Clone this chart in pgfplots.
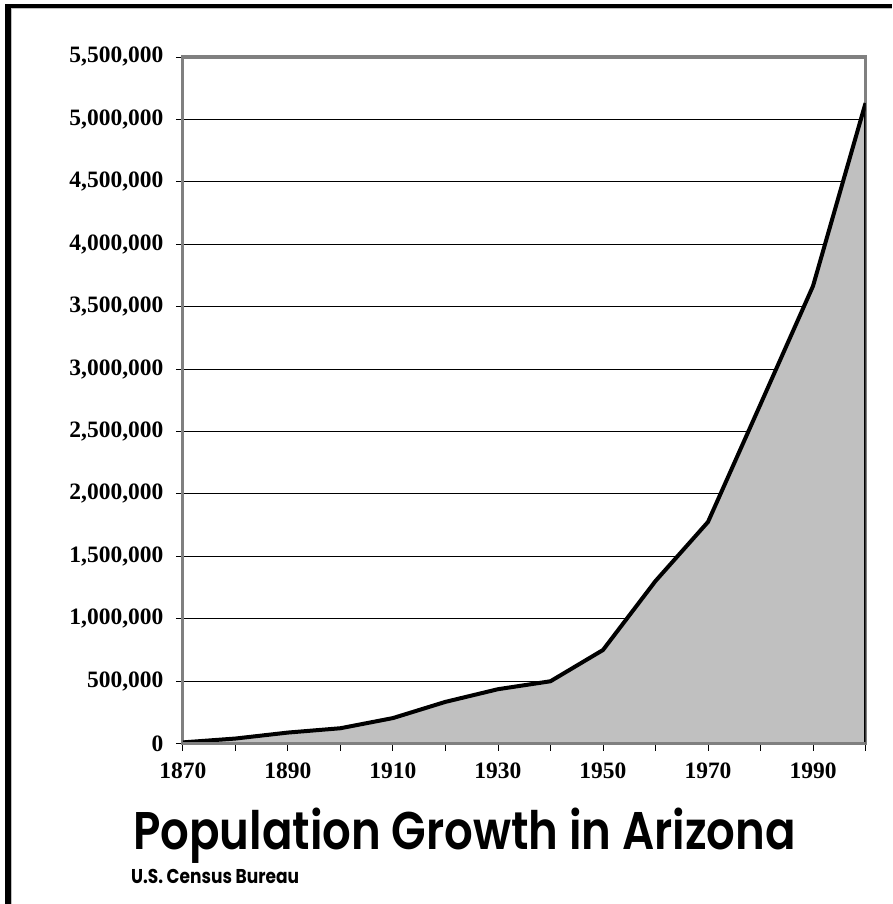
\documentclass[border=0pt]{standalone}
\usepackage{fontspec}
\setmainfont{Liberation Serif}
\newfontfamily\titlefont{Poppins SemiBold}
\newfontfamily\subtitlefont{Poppins}
\usepackage{pgfplots}
\pgfplotsset{compat=1.18}
\usepackage{graphicx}

\definecolor{areagray}{HTML}{C0C0C0}
\definecolor{framegray}{HTML}{808080}

% Census counts for Arizona, 1870-2000
\pgfplotstableread{
year pop
1870 9658
1880 40440
1890 88243
1900 122931
1910 204354
1920 334162
1930 435573
1940 499261
1950 749587
1960 1302161
1970 1775399
1980 2718215
1990 3665228
2000 5130632
}\azpop

\begin{document}
\begin{tikzpicture}[x=1pt,y=1pt]
% page size and outer frame (left and top edges)
\path (0,0) rectangle (892,904);
\fill[black] (5,0) rectangle (11,900);
\fill[black] (5,896) rectangle (892,900);
\draw[black!25, line width=1pt] (12,0) -- (12,895.5) -- (892,895.5);

\begin{axis}[
  at={(183pt,160pt)}, anchor=south west,
  scale only axis, width=683pt, height=687pt,
  xmin=1870, xmax=2000, ymin=0, ymax=5500000,
  xtick={1870,1880,...,2000},
  xticklabels={1870,,1890,,1910,,1930,,1950,,1970,,1990,},
  ytick={0,500000,...,5500000},
  scaled y ticks=false,
  yticklabel style={xshift=-9pt,
    /pgf/number format/fixed,
    /pgf/number format/1000 sep={,},
    /pgf/number format/assume math mode=true},
  ticklabel style={font=\bfseries\fontsize{23.5pt}{23.5pt}\selectfont},
  xtick pos=bottom, ytick pos=left,
  tick align=outside,
  major tick length=7pt,
  tick style={black, line width=0.9pt},
  ymajorgrids,
  grid style={black, line width=0.9pt},
  axis line style={framegray, line width=3.2pt},
  xticklabel style={yshift=-9pt},
]
\addplot[fill=areagray, draw=none] table[x=year,y=pop]{\azpop} \closedcycle;
\addplot[black, line width=4pt, line join=round] table[x=year,y=pop]{\azpop};
\addplot[black, line width=4pt] coordinates {(2000,5130632) (2000,0)};
\draw[framegray, line width=3.2pt] (axis cs:1870,0) -- (axis cs:2000,0);
\end{axis}

\node[anchor=base west, inner sep=0pt] at (133,54)
  {\scalebox{0.85}[1]{\titlefont\fontsize{53pt}{53pt}\selectfont Population Growth in Arizona}};
\node[anchor=base west, inner sep=0pt] at (131,20)
  {\scalebox{0.85}[1]{\subtitlefont\bfseries\fontsize{20pt}{20pt}\selectfont U.S. Census Bureau}};
\end{tikzpicture}
\end{document}
